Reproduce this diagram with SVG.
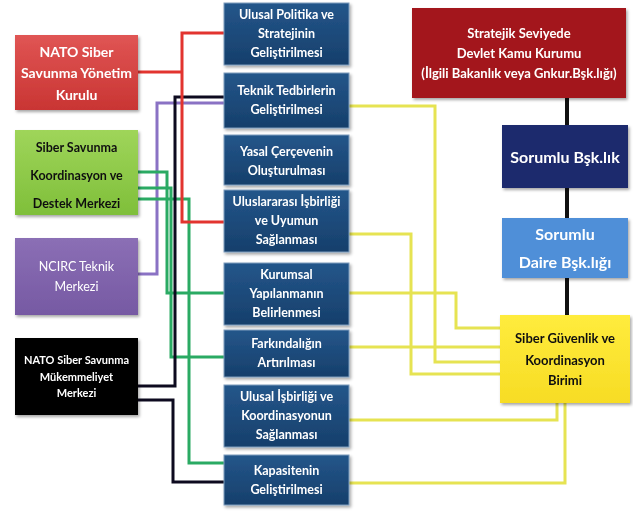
<svg xmlns="http://www.w3.org/2000/svg" width="633" height="518" viewBox="0 0 633 518">
<defs>
<filter id="sh" x="-10%" y="-10%" width="125%" height="130%">
<feDropShadow dx="1.5" dy="2" stdDeviation="1.5" flood-color="#000" flood-opacity="0.35"/>
</filter>
<linearGradient id="gBlue" x1="0" y1="0" x2="0" y2="1">
<stop offset="0" stop-color="#24568a"/><stop offset="1" stop-color="#163f6b"/>
</linearGradient>
<linearGradient id="gRed" x1="0" y1="0" x2="0" y2="1">
<stop offset="0" stop-color="#e05554"/><stop offset="1" stop-color="#c93533"/>
</linearGradient>
<linearGradient id="gGreen" x1="0" y1="0" x2="0" y2="1">
<stop offset="0" stop-color="#9fd55a"/><stop offset="1" stop-color="#7fbf3a"/>
</linearGradient>
<linearGradient id="gPurple" x1="0" y1="0" x2="0" y2="1">
<stop offset="0" stop-color="#8b6fb5"/><stop offset="1" stop-color="#7659a3"/>
</linearGradient>
<linearGradient id="gYellow" x1="0" y1="0" x2="0" y2="1">
<stop offset="0" stop-color="#ffec3d"/><stop offset="1" stop-color="#f7dc24"/>
</linearGradient>
</defs>
<style>
text{font-family:Lato,"Open Sans","DejaVu Sans",sans-serif;font-weight:bold;text-anchor:middle}
.w{fill:#fff}
.k{fill:#111}
.mid{font-size:12.5px}
.box{filter:url(#sh)}
.mb{fill:url(#gBlue);stroke:#7f9dbd;stroke-width:1}
.ln{fill:none;stroke-width:3;stroke-linejoin:miter}
.red{stroke:#e2342f}
.pur{stroke:#8a72c4}
.blk{stroke:#0d0a1f}
.grn{stroke:#2aaa63}
.yel{stroke:#e6e352}
.vk{stroke:#111;stroke-width:4}
</style>
<rect width="633" height="518" fill="#fff"/>
<g id="connectors">
<polyline class="ln yel" points="349,106 435,106 435,362 500,362"/>
<polyline class="ln yel" points="349,234 411,234 411,374 500,374"/>
<polyline class="ln yel" points="349,293 456,293 456,328 500,328"/>
<polyline class="ln yel" points="349,347 500,347"/>
<polyline class="ln yel" points="349,420 557,420 557,403"/>
<polyline class="ln yel" points="349,483 565,483 565,403"/>
<polyline class="ln pur" points="138,274 157,274 157,103 224,103"/>
<polyline class="ln grn" points="138,172 167,172 167,293 224,293"/>
<polyline class="ln grn" points="138,188 171,188 171,357 224,357"/>
<polyline class="ln grn" points="138,199 189,199 189,463 224,463"/>
<polyline class="ln blk" points="138,386 175,386 175,97 224,97"/>
<polyline class="ln blk" points="138,400 173,400 173,482 224,482"/>
<polyline class="ln red" points="138,72 182,72"/>
<polyline class="ln red" points="224,33 182,33 182,222 224,222"/>
<line class="vk" x1="567" y1="98" x2="567" y2="125"/>
<line class="vk" x1="567" y1="188" x2="567" y2="218"/>
<line class="vk" x1="567" y1="278" x2="567" y2="315"/>
</g>
<g id="nato-ydk" class="box">
<rect x="15" y="35" width="123" height="75" fill="url(#gRed)"/>
<text class="w" font-size="14" x="76.5" y="57">NATO Siber</text>
<text class="w" font-size="14" x="76.5" y="78">Savunma Yönetim</text>
<text class="w" font-size="14" x="76.5" y="100">Kurulu</text>
</g>
<g id="ssk-destek" class="box">
<rect x="15" y="130" width="123" height="85" fill="url(#gGreen)"/>
<text class="k" font-size="12.5" x="76.5" y="152">Siber Savunma</text>
<text class="k" font-size="12.5" x="76.5" y="180">Koordinasyon ve</text>
<text class="k" font-size="12.5" x="76.5" y="208">Destek Merkezi</text>
</g>
<g id="ncirc" class="box">
<rect x="15" y="238" width="123" height="77" fill="url(#gPurple)"/>
<text class="w" font-size="12.5" style="font-weight:normal" x="76.5" y="271">NCIRC Teknik</text>
<text class="w" font-size="12.5" style="font-weight:normal" x="76.5" y="291">Merkezi</text>
</g>
<g id="nato-ccdcoe" class="box">
<rect x="15" y="338" width="123" height="77" fill="#000"/>
<text class="w" font-size="11" x="76.5" y="364">NATO Siber Savunma</text>
<text class="w" font-size="11" x="76.5" y="381">Mükemmeliyet</text>
<text class="w" font-size="11" x="76.5" y="397">Merkezi</text>
</g>
<g id="m1" class="box">
<rect class="mb" x="224" y="3" width="125" height="62"/>
<text class="w mid" x="286.5" y="19">Ulusal Politika ve</text>
<text class="w mid" x="286.5" y="38">Stratejinin</text>
<text class="w mid" x="286.5" y="57">Geliştirilmesi</text>
</g>
<g id="m2" class="box">
<rect class="mb" x="224" y="73" width="125" height="55"/>
<text class="w mid" x="286.5" y="95">Teknik Tedbirlerin</text>
<text class="w mid" x="286.5" y="114">Geliştirilmesi</text>
</g>
<g id="m3" class="box">
<rect class="mb" x="224" y="135" width="125" height="50"/>
<text class="w mid" x="286.5" y="156">Yasal Çerçevenin</text>
<text class="w mid" x="286.5" y="175">Oluşturulması</text>
</g>
<g id="m4" class="box">
<rect class="mb" x="224" y="190" width="125" height="62"/>
<text class="w mid" x="286.5" y="206">Uluslararası İşbirliği</text>
<text class="w mid" x="286.5" y="225">ve Uyumun</text>
<text class="w mid" x="286.5" y="244">Sağlanması</text>
</g>
<g id="m5" class="box">
<rect class="mb" x="224" y="263" width="125" height="62"/>
<text class="w mid" x="286.5" y="279">Kurumsal</text>
<text class="w mid" x="286.5" y="298">Yapılanmanın</text>
<text class="w mid" x="286.5" y="317">Belirlenmesi</text>
</g>
<g id="m6" class="box">
<rect class="mb" x="224" y="330" width="125" height="47"/>
<text class="w mid" x="286.5" y="348">Farkındalığın</text>
<text class="w mid" x="286.5" y="367">Artırılması</text>
</g>
<g id="m7" class="box">
<rect class="mb" x="224" y="385" width="125" height="62"/>
<text class="w mid" x="286.5" y="401">Ulusal İşbirliği ve</text>
<text class="w mid" x="286.5" y="420">Koordinasyonun</text>
<text class="w mid" x="286.5" y="439">Sağlanması</text>
</g>
<g id="m8" class="box">
<rect class="mb" x="224" y="455" width="125" height="50"/>
<text class="w mid" x="286.5" y="475">Kapasitenin</text>
<text class="w mid" x="286.5" y="494">Geliştirilmesi</text>
</g>
<g id="stratejik" class="box">
<rect x="412" y="8" width="214" height="90" fill="#a3191c"/>
<text class="w" font-size="13" x="519" y="38">Stratejik Seviyede</text>
<text class="w" font-size="13" x="519" y="58">Devlet Kamu Kurumu</text>
<text class="w" font-size="13" x="519" y="78">(İlgili Bakanlık veya Gnkur.Bşk.lığı)</text>
</g>
<g id="sorumlu-bsk" class="box">
<rect x="502" y="125" width="126" height="63" fill="#1f2a6d"/>
<text class="w" font-size="16" x="565" y="163">Sorumlu Bşk.lık</text>
</g>
<g id="sorumlu-daire" class="box">
<rect x="502" y="218" width="126" height="60" fill="#4f8fd8"/>
<text class="w" font-size="16" x="565" y="240">Sorumlu</text>
<text class="w" font-size="16" x="565" y="268">Daire Bşk.lığı</text>
</g>
<g id="sgkb" class="box">
<rect x="500" y="315" width="130" height="88" fill="url(#gYellow)"/>
<text class="k" font-size="13" x="565" y="343">Siber Güvenlik ve</text>
<text class="k" font-size="13" x="565" y="365">Koordinasyon</text>
<text class="k" font-size="13" x="565" y="385">Birimi</text>
</g>
</svg>
